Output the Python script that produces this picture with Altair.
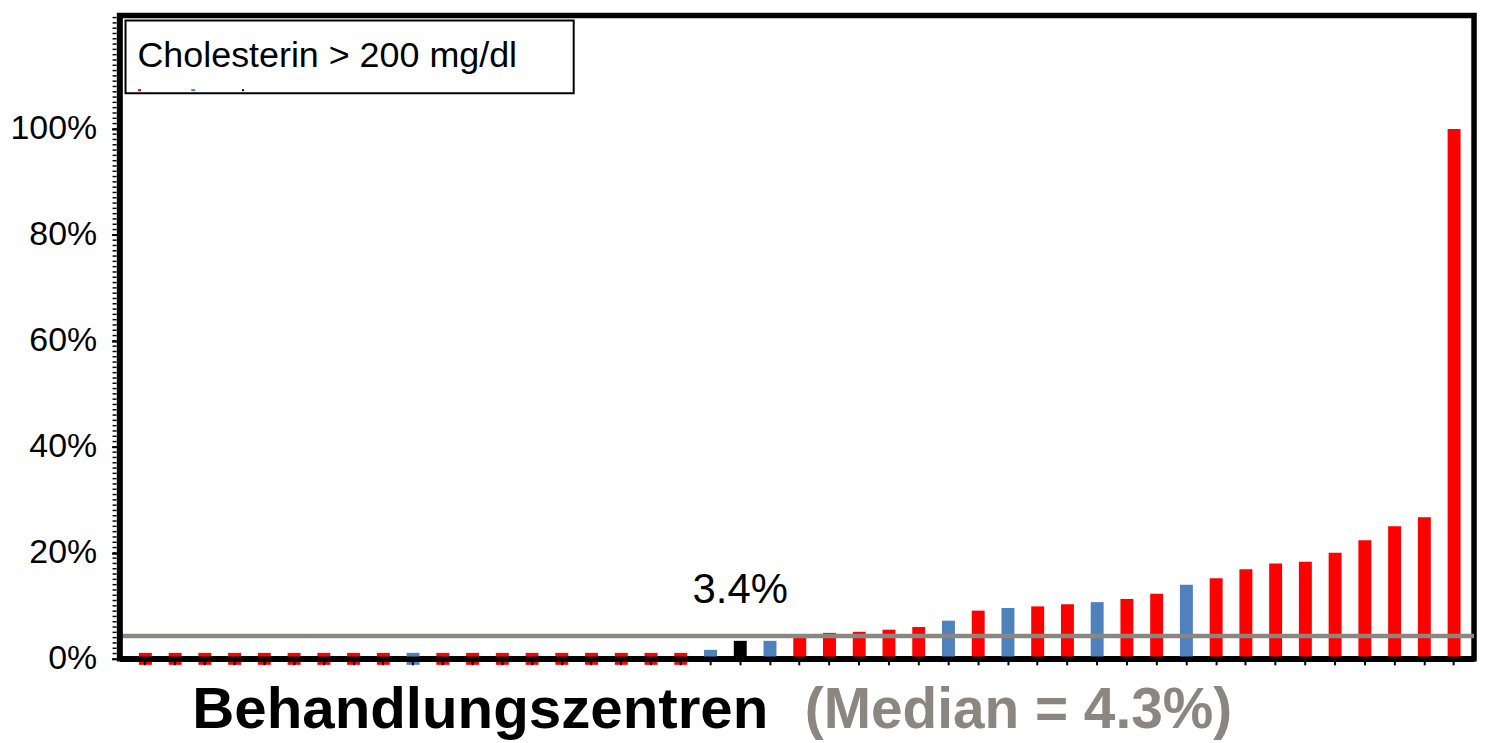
import altair as alt
import pandas as pd

# ---- data ----
centre_idx = list(range(1, 46))
rate_pct = [0, 0, 0, 0, 0, 0, 0, 0, 0, 0, 0, 0, 0, 0, 0, 0, 0, 0, 0,
            1.7, 3.4, 3.4, 4.3, 4.9, 5.1, 5.5, 6.0, 7.2, 9.1, 9.6, 9.9,
            10.3, 10.7, 11.3, 12.3, 14.0, 15.2, 16.9, 18.0, 18.3, 20.0,
            22.4, 25.0, 26.7, 100.0]
group = (["Andere"] * 9 + ["Vergleich"] + ["Andere"] * 9 +
         ["Vergleich", "Eigenes Zentrum", "Vergleich"] +
         ["Andere"] * 5 + ["Vergleich", "Andere", "Vergleich", "Andere", "Andere",
                           "Vergleich", "Andere", "Andere", "Vergleich"] +
         ["Andere"] * 9)
group_names = ["Andere", "Vergleich", "Eigenes Zentrum"]
group_colors = ["#FF0000", "#4F81BD", "#000000"]
major_ticks = [0, 20, 40, 60, 80, 100]
minor_ticks = list(range(0, 122))
median_pct = [4.3]
own_label = ["3.4%"]
legend_title = ["Cholesterin > 200 mg/dl"]
x_title = ["Behandlungszentren"]
median_title = ["(Median = 4.3%)"]

df = pd.DataFrame({"idx": centre_idx, "rate": rate_pct, "group": group})
df["label"] = ""
df.loc[df["group"] == "Eigenes Zentrum", "label"] = own_label[0]

W, H = 1360, 646
FONT = "Liberation Sans"
GRAY = "#8B8680"

xscale = alt.Scale(domain=centre_idx, paddingInner=0.565, paddingOuter=0.5525, align=0.59)
yscale = alt.Scale(domain=[0, 121.4], nice=False, zero=True)
cscale = alt.Scale(domain=group_names, range=group_colors)

xaxis = alt.Axis(labels=False, title=None, ticks=True, tickSize=6, tickWidth=2,
                 tickColor="black", domain=True, domainColor="black",
                 domainWidth=5.5, zindex=1, grid=False)
yaxis = alt.Axis(values=major_ticks, labelExpr="datum.value + '%'",
                 labelOverlap=False, labelFont=FONT, labelFontSize=34,
                 labelColor="black", labelPadding=15, tickSize=8, tickWidth=2,
                 tickColor="black", domain=True, domainColor="black",
                 domainWidth=5.5, zindex=1, grid=False, title=None)

base = alt.Chart(df)

bars = base.transform_filter("datum.rate > 0").mark_bar().encode(
    x=alt.X("idx:O", scale=xscale, axis=xaxis),
    y=alt.Y("rate:Q", scale=yscale, axis=yaxis),
    color=alt.Color("group:N", scale=cscale, legend=None),
)

stubs = base.transform_filter("datum.rate == 0").mark_tick(thickness=12, size=13, opacity=1).encode(
    x=alt.X("idx:O", scale=xscale),
    y=alt.Y("rate:Q", scale=yscale),
    color=alt.Color("group:N", scale=cscale, legend=None),
)

minor = alt.Chart(pd.DataFrame({"v": minor_ticks})).mark_rule(
    color="black", strokeWidth=1.5).encode(
    y=alt.Y("v:Q", scale=yscale), x=alt.value(-7), x2=alt.value(-3))

median = alt.Chart(pd.DataFrame({"m": median_pct})).mark_rule(
    color=GRAY, strokeWidth=4.5).encode(y=alt.Y("m:Q", scale=yscale))

own_text = base.transform_filter("datum.group == 'Eigenes Zentrum'").mark_text(
    font=FONT, fontSize=42, color="black", dy=-38, baseline="alphabetic", align="center"
).encode(x=alt.X("idx:O", scale=xscale), y=alt.Y("rate:Q", scale=yscale), text="label:N")

one = pd.DataFrame({"t": legend_title})
legend_box = alt.Chart(one).mark_rect(fill="white", stroke="black", strokeWidth=2).encode(
    x=alt.value(6), x2=alt.value(456), y=alt.value(5), y2=alt.value(78))
legend_text = alt.Chart(one).mark_text(
    font=FONT, fontSize=36, align="left", baseline="alphabetic", color="black"
).encode(x=alt.value(18), y=alt.value(52), text="t:N")

def marker(x, color, w):
    return alt.Chart(one).mark_rect(fill=color).encode(
        x=alt.value(x), x2=alt.value(x + w), y=alt.value(74), y2=alt.value(76))

markers = [marker(18.5, group_colors[0], 3), marker(72, group_colors[1], 4),
           marker(123, group_colors[2], 2)]

title1 = alt.Chart(pd.DataFrame({"t": x_title})).mark_text(
    font=FONT, fontSize=58.5, fontWeight="bold", align="left", baseline="alphabetic",
    color="black").encode(x=alt.value(73), y=alt.value(715), text="t:N")
title2 = alt.Chart(pd.DataFrame({"t": median_title})).mark_text(
    font=FONT, fontSize=57, fontWeight="bold", align="left", baseline="alphabetic",
    color=GRAY).encode(x=alt.value(688), y=alt.value(715), text="t:N")

chart = alt.layer(
    bars, stubs, minor, median, own_text, legend_box, legend_text, *markers, title1, title2
).properties(
    width=W, height=H,
    background="white",
    autosize=alt.AutoSizeParams(type="none"),
    padding={"left": 112, "top": 6, "right": 8, "bottom": 83},
).configure_view(stroke="black", strokeWidth=5.5)

chart.save("out.html", embed_options={"renderer": "svg", "actions": False})
